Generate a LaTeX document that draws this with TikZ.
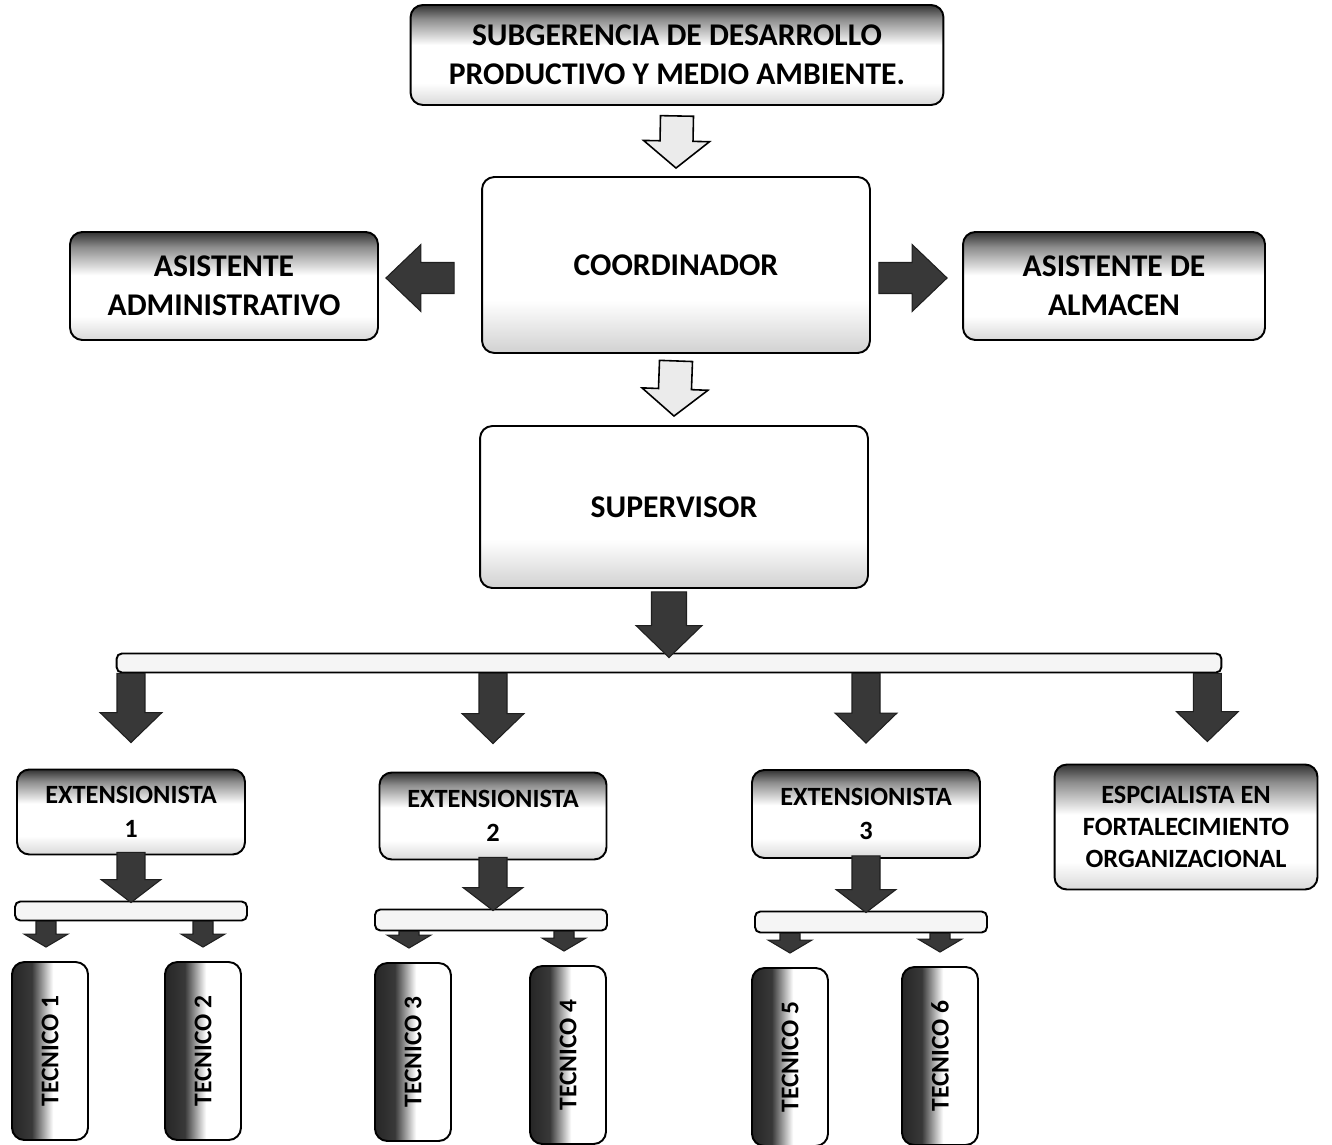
\documentclass[tikz,border=0pt]{standalone}
\usepackage{fontspec}
\setmainfont{Carlito}
\usetikzlibrary{calc}
\pgfdeclareverticalshading{sombraarriba}{100bp}{color(0bp)=(black!15); color(25bp)=(black!15); color(36bp)=(white); color(55bp)=(white); color(68bp)=(black!45); color(75bp)=(black!80); color(100bp)=(black!80)}
\pgfdeclareverticalshading{sombraabajo}{100bp}{color(0bp)=(black!18); color(25bp)=(black!18); color(40bp)=(white); color(100bp)=(white)}
\pgfdeclarehorizontalshading{sombraizq}{100bp}{color(0bp)=(black!85); color(25bp)=(black!85); color(38bp)=(black!78); color(52bp)=(white); color(100bp)=(white)}

\begin{document}
\begin{tikzpicture}[x=0.02cm,y=-0.02cm]
				\tikzstyle{caja} = [draw=black,line width=1.1pt,rounded corners=7pt,align=center,font=\bfseries\fontsize{18}{22}\selectfont]
				\tikzstyle{jefe} = [caja,shading=sombraarriba]
				\tikzstyle{clara} = [caja,shading=sombraabajo]
				\tikzstyle{ext} = [caja,shading=sombraarriba,font=\bfseries\fontsize{15}{19.5}\selectfont]
				\tikzstyle{tec} = [caja,shading=sombraizq,minimum width=1.52cm,minimum height=3.56cm]
				\tikzstyle{riel} = [draw=black,line width=1.1pt,rounded corners=3pt,fill=black!4]
				\tikzstyle{oscura} = [fill=black!78,draw=black!88,line width=0.6pt]
				\tikzstyle{hueca} = [fill=black!8,draw=black,line width=0.9pt]
				\tikzstyle{tectxt} = [rotate=90,font=\bfseries\fontsize{14.5}{17}\selectfont]
				\tikzset{flecha/.style n args={3}{to path={
					let \p0=(\tikztostart), \p2=(\tikztotarget),
					\n1={veclen(\x2-\x0,\y2-\y0)}, \n2={(\x2-\x0)/\n1}, \n3={(\y2-\y0)/\n1} in
					({\x0-(\n3)*#1},{\y0+(\n2)*#1})
					-- ({\x2-(\n2)*#3-(\n3)*#1},{\y2-(\n3)*#3+(\n2)*#1})
					-- ({\x2-(\n2)*#3-(\n3)*#2},{\y2-(\n3)*#3+(\n2)*#2})
					-- (\x2,\y2)
					-- ({\x2-(\n2)*#3+(\n3)*#2},{\y2-(\n3)*#3-(\n2)*#2})
					-- ({\x2-(\n2)*#3+(\n3)*#1},{\y2-(\n3)*#3-(\n2)*#1})
					-- ({\x0+(\n3)*#1},{\y0-(\n2)*#1}) -- cycle}}}
				\useasboundingbox (0,0) rectangle (1332,1145);
				\node[jefe,minimum width=10.66cm,minimum height=2cm] (subg) at (677,55) {SUBGERENCIA DE DESARROLLO\\PRODUCTIVO Y MEDIO AMBIENTE.};
				\node[clara,minimum width=7.76cm,minimum height=3.52cm] (coord) at (676,265) {COORDINADOR};
				\node[jefe,minimum width=6.16cm,minimum height=2.16cm] (asadm) at (224,286) {ASISTENTE\\ADMINISTRATIVO};
				\node[jefe,minimum width=6.04cm,minimum height=2.16cm] (asalm) at (1114,286) {ASISTENTE DE\\ALMACEN};
				\node[clara,minimum width=7.76cm,minimum height=3.24cm] (superv) at (674,507) {SUPERVISOR};
				\node[riel,minimum width=22.1cm,minimum height=0.38cm] (barra) at (669,663) {};
				\node[ext,minimum width=4.56cm,minimum height=1.7cm] (ext1) at (131,812) {EXTENSIONISTA\\1};
				\node[ext,minimum width=4.54cm,minimum height=1.74cm] (ext2) at (493,816) {EXTENSIONISTA\\2};
				\node[ext,minimum width=4.56cm,minimum height=1.76cm] (ext3) at (866,814) {EXTENSIONISTA\\3};
				\node[ext,minimum width=5.26cm,minimum height=2.5cm,font=\bfseries\fontsize{15}{18}\selectfont] (esp) at (1186,827) {ESPCIALISTA EN\\FORTALECIMIENTO\\ORGANIZACIONAL};
				\node[riel,minimum width=4.64cm,minimum height=0.38cm] (bar1) at (131,911) {};
				\node[riel,minimum width=4.64cm,minimum height=0.42cm] (bar2) at (491,920) {};
				\node[riel,minimum width=4.64cm,minimum height=0.42cm] (bar3) at (871,922) {};
				\node[tec,label={[tectxt]center:TECNICO 1}] (tec1) at (50,1051) {};
				\node[tec,label={[tectxt]center:TECNICO 2}] (tec2) at (203,1051) {};
				\node[tec,label={[tectxt]center:TECNICO 3}] (tec3) at (413,1052) {};
				\node[tec,label={[tectxt]center:TECNICO 4}] (tec4) at (568,1055) {};
				\node[tec,label={[tectxt]center:TECNICO 5}] (tec5) at (790,1057) {};
				\node[tec,label={[tectxt]center:TECNICO 6}] (tec6) at (940,1056) {};
				\draw[hueca,flecha={0.33cm}{0.66cm}{0.54cm}] ($(subg.south)+(0,10)$) to ($(coord.north)+(0,-8)$);
				\draw[hueca,flecha={0.33cm}{0.66cm}{0.54cm}] ($(coord.south)+(0,7)$) to ($(superv.north)+(0,-9)$);
				\draw[oscura,flecha={0.31cm}{0.67cm}{0.7cm}] ($(coord.west)+(-27,13)$) to ($(asadm.east)+(7,-8)$);
				\draw[oscura,flecha={0.31cm}{0.67cm}{0.7cm}] ($(coord.east)+(8,13)$) to ($(asalm.west)+(-15,-8)$);
				\draw[oscura,flecha={0.35cm}{0.66cm}{0.64cm}] ($(superv.south -| barra.north)+(0,3)$) to ($(barra.north)+(0,5)$);
				\draw[oscura,flecha={0.28cm}{0.62cm}{0.6cm}] (barra.south -| ext1.north) to ($(ext1.north)+(0,-26)$);
				\draw[oscura,flecha={0.28cm}{0.62cm}{0.6cm}] (barra.south -| ext2.north) to ($(ext2.north)+(0,-28)$);
				\draw[oscura,flecha={0.28cm}{0.62cm}{0.6cm}] (barra.south -| ext3.north) to ($(ext3.north)+(0,-26)$);
				\draw[oscura,flecha={0.28cm}{0.62cm}{0.6cm}] ($(barra.south east)+(-15,0)$) to ($(esp.north -| barra.south east)+(-15,-22)$);
				\draw[oscura,flecha={0.28cm}{0.6cm}{0.46cm}] ($(ext1.south)+(0,-3)$) to ($(bar1.north -| ext1.south)+(0,2)$);
				\draw[oscura,flecha={0.28cm}{0.6cm}{0.46cm}] ($(ext2.south)+(0,-3)$) to ($(bar2.north -| ext2.south)+(0,2)$);
				\draw[oscura,flecha={0.28cm}{0.6cm}{0.46cm}] ($(ext3.south)+(0,-3)$) to ($(bar3.north -| ext3.south)+(0,2)$);
				\draw[oscura,flecha={0.2cm}{0.44cm}{0.26cm}] ($(bar1.south -| tec1.north)+(-4,0)$) to ($(tec1.north)+(-4,-14)$);
				\draw[oscura,flecha={0.2cm}{0.44cm}{0.26cm}] (bar1.south -| tec2.north) to ($(tec2.north)+(0,-14)$);
				\draw[oscura,flecha={0.2cm}{0.44cm}{0.26cm}] ($(bar2.south -| tec3.north)+(-4,0)$) to ($(tec3.north)+(-4,-14)$);
				\draw[oscura,flecha={0.2cm}{0.44cm}{0.26cm}] ($(bar2.south -| tec4.north)+(-4,0)$) to ($(tec4.north)+(-4,-14)$);
				\draw[oscura,flecha={0.2cm}{0.44cm}{0.26cm}] (bar3.south -| tec5.north) to ($(tec5.north)+(0,-14)$);
				\draw[oscura,flecha={0.2cm}{0.44cm}{0.26cm}] (bar3.south -| tec6.north) to ($(tec6.north)+(0,-14)$);
\end{tikzpicture}
\end{document}
